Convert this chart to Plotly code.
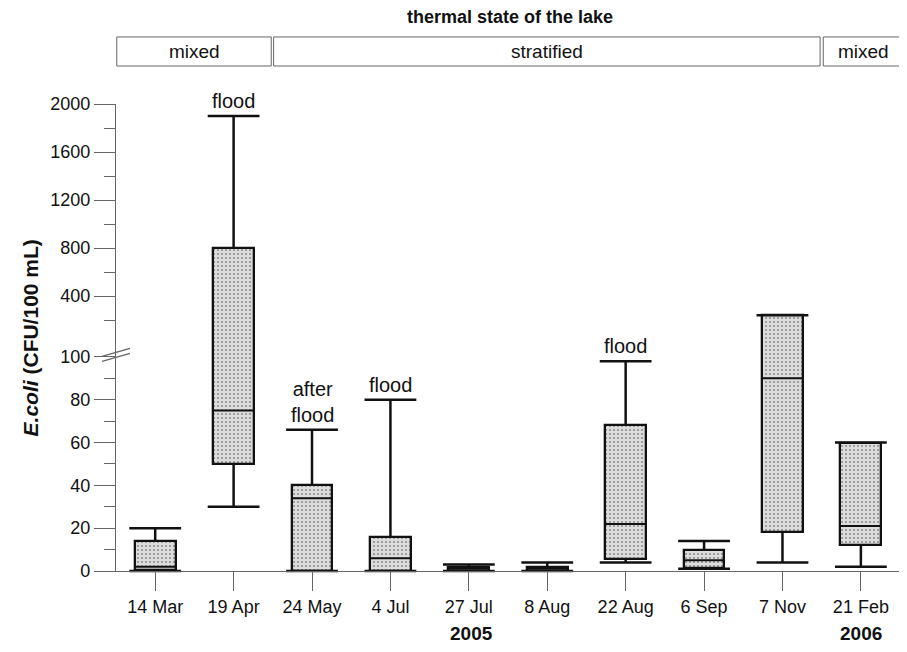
import numpy as np
import plotly.graph_objects as go

# ---------------- data ----------------
dates = ["14 Mar", "19 Apr", "24 May", "4 Jul", "27 Jul", "8 Aug", "22 Aug", "6 Sep", "7 Nov", "21 Feb"]
whisker_low = [0, 30, 0, 0, 0, 0, 4, 1, 4, 2]
quart1 = [0.5, 50, 0, 0, 0, 0, 5.5, 1.5, 18, 12]
medians = [2, 75, 34, 6, 1, 1, 22, 5, 90, 21]
quart3 = [14, 800, 40, 16, 2, 2, 68, 10, 240, 60]
whisker_high = [20, 1900, 66, 80, 3, 4, 98, 14, 240, 60]
event_labels = ["", "flood", "after<br>flood", "flood", "", "", "flood", "", "", ""]

major_ticks = [0, 20, 40, 60, 80, 100, 400, 800, 1200, 1600, 2000]
minor_ticks = [10, 30, 50, 70, 90, 200, 600, 1000, 1400, 1800]

thermal_states = ["mixed", "stratified", "mixed"]
years = ["2005", "2006"]

# ---------------- broken-axis transform ----------------
# piecewise linear scale: 0-100 (lower part), compressed 100-200, 200-2000 (upper part)
KNOT_V = [0, 100, 200, 2000]
KNOT_D = [0, 100, 117.15, 218.1]


def tr(v):
    return np.interp(np.asarray(v, dtype=float), KNOT_V, KNOT_D)


FONT = "Liberation Sans, Arial, sans-serif"
INK = "#111111"
AXC = "#666666"

fig = go.Figure()

# boxes (q1..q3) as stippled bars
b = tr(quart1)
t = tr(quart3)
fig.add_trace(go.Bar(
    x=dates, y=t - b, base=b, width=0.52,
    marker=dict(color="#dcdcdc",
                line=dict(color=INK, width=2.3),
                pattern=dict(shape=".", fgcolor="#333333", bgcolor="#dcdcdc",
                             size=4, solidity=0.2)),
    showlegend=False, hoverinfo="skip"))

# whiskers
wx, wy = [], []
for d, lo, q1, q3, hi in zip(dates, whisker_low, quart1, quart3, whisker_high):
    wx += [d, d, None, d, d, None]
    wy += [float(tr(q3)), float(tr(hi)), None, float(tr(lo)), float(tr(q1)), None]
fig.add_trace(go.Scatter(x=wx, y=wy, mode="lines",
                         line=dict(color=INK, width=2.5),
                         showlegend=False, hoverinfo="skip", cliponaxis=False))

# whisker caps
fig.add_trace(go.Scatter(
    x=dates + dates, y=list(tr(whisker_high)) + list(tr(whisker_low)),
    mode="markers",
    marker=dict(symbol="line-ew", size=37, line=dict(color=INK, width=2.5)),
    showlegend=False, hoverinfo="skip", cliponaxis=False))

# medians
fig.add_trace(go.Scatter(
    x=dates, y=tr(medians), mode="markers",
    marker=dict(symbol="line-ew", size=29, line=dict(color=INK, width=2.0)),
    showlegend=False, hoverinfo="skip", cliponaxis=False))

annotations = []
# event labels
for d, hi, lab in zip(dates, whisker_high, event_labels):
    if lab:
        annotations.append(dict(x=d, y=float(tr(hi)), xref="x", yref="y", text=lab,
                                showarrow=False, yanchor="bottom", yshift=2,
                                font=dict(family=FONT, size=20, color=INK)))

# y title
annotations.append(dict(
    x=-0.108, y=0.5, xref="paper", yref="paper", textangle=-90,
    text="<b><i>E.coli</i> (CFU/100 mL)</b>", showarrow=False,
    font=dict(family=FONT, size=21, color=INK), xanchor="center", yanchor="middle"))

# header
annotations.append(dict(x=0.5, y=1.187, xref="paper", yref="paper",
                        text="<b>thermal state of the lake</b>", showarrow=False,
                        xanchor="center", yanchor="middle",
                        font=dict(family=FONT, size=18, color=INK)))

shapes = []
spans = [(-0.49, 1.48), (1.51, 8.48), (8.52, 9.54)]
for (x0, x1), lab in zip(spans, thermal_states):
    shapes.append(dict(type="rect", xref="x", yref="paper", x0=x0, x1=x1,
                       y0=1.0814, y1=1.1436, line=dict(color=AXC, width=1)))
    annotations.append(dict(x=(x0 + x1) / 2, y=1.1125, xref="x", yref="paper",
                            text=lab, showarrow=False, xanchor="center",
                            yanchor="middle",
                            font=dict(family=FONT, size=19, color=INK)))

# years
for xi, yr in zip([4.04, 9.0], years):
    annotations.append(dict(x=xi, y=-0.1335, xref="x", yref="paper",
                            text="<b>%s</b>" % yr, showarrow=False,
                            xanchor="center", yanchor="middle",
                            font=dict(family=FONT, size=19, color=INK)))

# axis break marks
yb = float(tr(109.7))
for off in (0, -5):
    shapes.append(dict(type="line", xref="paper", yref="y",
                       xsizemode="pixel", ysizemode="pixel",
                       xanchor=0, yanchor=yb,
                       x0=-14, x1=14, y0=-3 + off, y1=5 + off,
                       line=dict(color=AXC, width=1.2)))

# the page body adds an 8 px offset, so the figure is 8 px smaller
fig.update_layout(
    width=899, height=644,
    margin=dict(l=108, r=3, t=96, b=81, pad=0),
    paper_bgcolor="white", plot_bgcolor="white",
    font=dict(family=FONT, size=18, color=INK),
    showlegend=False, bargap=0,
    annotations=annotations, shapes=shapes,
    xaxis=dict(type="category", range=[-0.5, 9.55], showgrid=False,
               showline=True, linecolor=AXC, linewidth=1.3,
               ticks="outside", ticklen=19, tickwidth=1.3, tickcolor=AXC,
               tickfont=dict(family=FONT, size=18, color=INK), zeroline=False),
    yaxis=dict(range=[0, 218.1], showgrid=False, zeroline=False,
               showline=True, linecolor=AXC, linewidth=1.3,
               tickmode="array", tickvals=list(tr(major_ticks)),
               ticktext=[str(v) for v in major_ticks],
               ticks="outside", ticklen=21, tickwidth=1.3, tickcolor=AXC,
               tickfont=dict(family=FONT, size=18, color=INK),
               minor=dict(tickmode="array", tickvals=list(tr(minor_ticks)),
                          ticks="outside", ticklen=11, tickwidth=1.3,
                          tickcolor=AXC, showgrid=False)),
)

fig.write_html("out.html")
